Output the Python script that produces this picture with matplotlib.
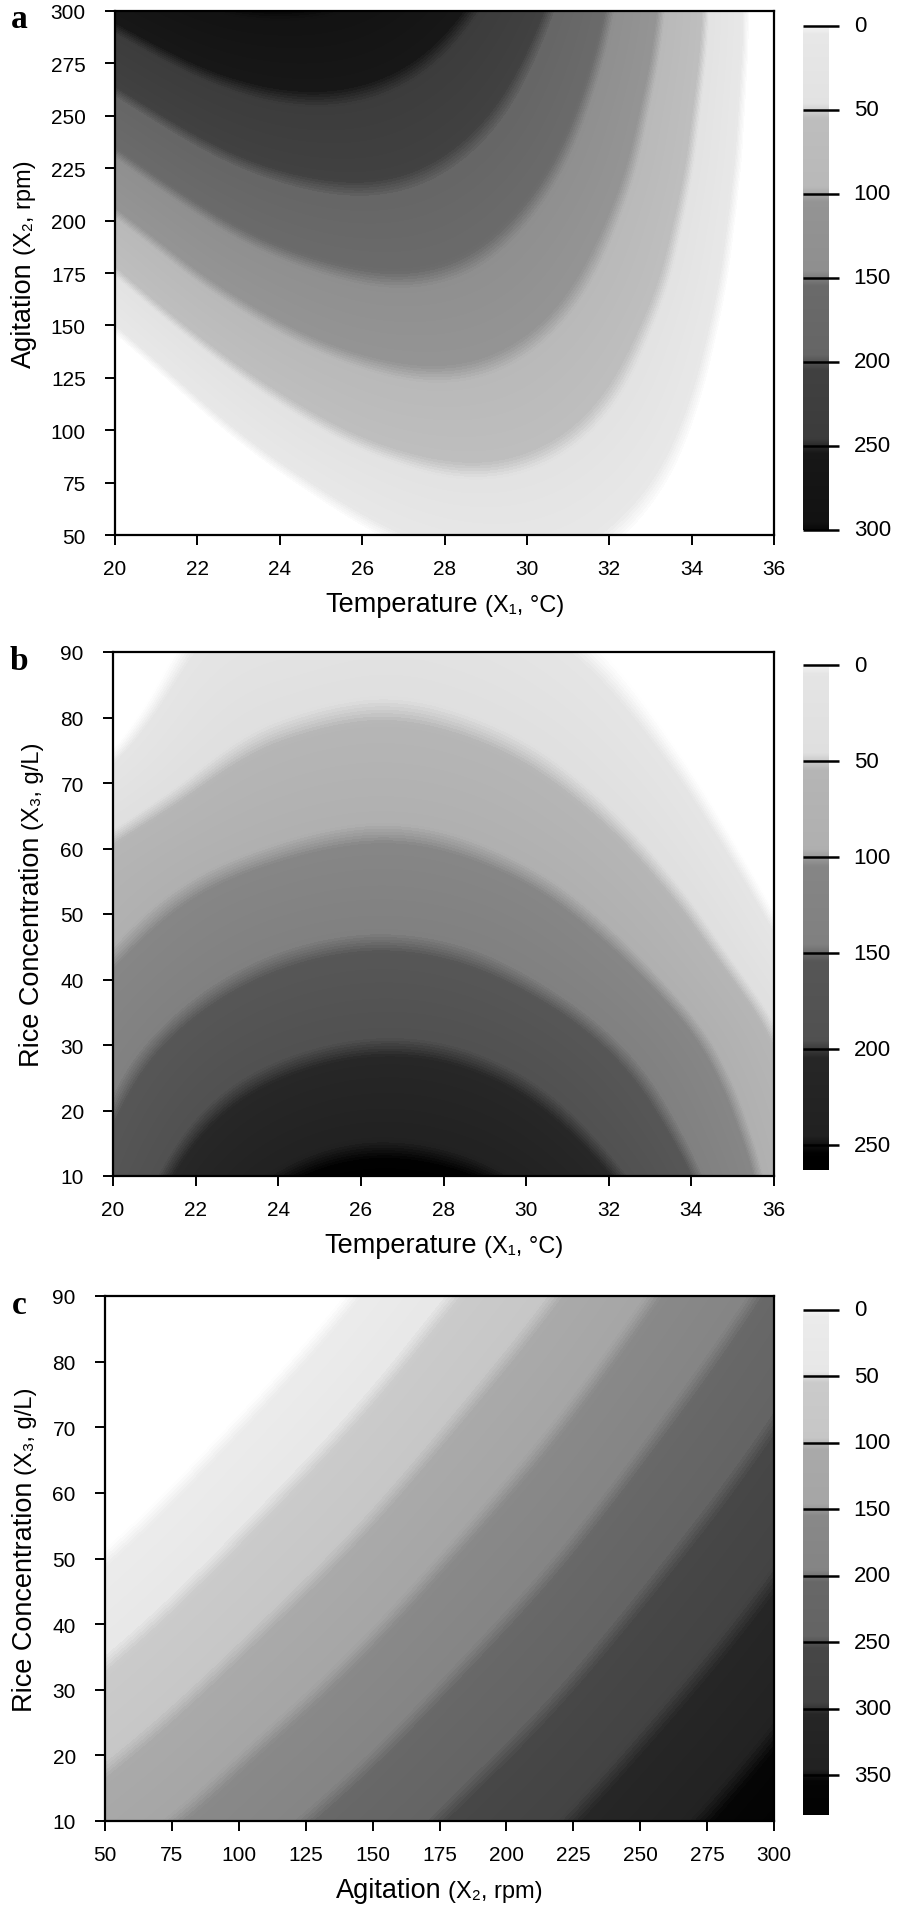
import numpy as np
import matplotlib
matplotlib.use('Agg')
import matplotlib.pyplot as plt
import matplotlib.tri as mtri
from matplotlib.colors import ListedColormap, Normalize
from matplotlib.transforms import IdentityTransform

# axis grids of the response surfaces
temperature = [20, 22, 24, 26, 28, 30, 32, 34, 36]
agitation = [50, 75, 100, 125, 150, 175, 200, 225, 250, 275, 300]
rice = [10, 20, 30, 40, 50, 60, 70, 80, 90]

# panel a: rows = agitation, cols = temperature
surface_a = [
    [-190, -111, -51, -10, 12, 16, 1, -33, -85],
    [-140, -67, -12, 24, 42, 40, 20, -18, -76],
    [-92, -23, 27, 58, 70, 64, 39, -5, -68],
    [-44, 19, 64, 90, 98, 86, 56, 7, -61],
    [3, 61, 101, 122, 124, 108, 72, 18, -54],
    [48, 102, 136, 152, 150, 128, 88, 29, -49],
    [93, 141, 171, 182, 174, 147, 102, 38, -45],
    [137, 180, 205, 211, 198, 166, 116, 47, -41],
    [180, 218, 238, 238, 220, 184, 128, 54, -39],
    [222, 255, 269, 265, 242, 200, 140, 61, -37],
    [263, 291, 300, 291, 263, 216, 150, 66, -37],
]

# panel b: rows = rice concentration, cols = temperature
surface_b = [
    [167, 216, 248, 262, 259, 240, 205, 154, 86],
    [150, 192, 218, 230, 227, 210, 178, 132, 72],
    [131, 166, 188, 198, 196, 180, 151, 109, 53],
    [108, 138, 158, 167, 164, 148, 120, 79, 26],
    [84, 111, 128, 136, 133, 118, 90, 50, -4],
    [56, 82, 98, 106, 103, 88, 62, 23, -28],
    [15, 50, 70, 78, 75, 61, 36, -1, -50],
    [-20, 24, 44, 52, 49, 36, 13, -22, -67],
    [-45, 4, 20, 28, 26, 14, -7, -38, -78],
]

# panel c: rows = rice concentration, cols = agitation
surface_c = [
    [124, 149, 174, 200, 225, 251, 276, 301, 327, 352, 377],
    [93, 119, 146, 172, 198, 225, 251, 277, 304, 330, 356],
    [62, 89, 117, 144, 171, 199, 226, 253, 281, 308, 335],
    [31, 59, 88, 116, 144, 173, 201, 229, 258, 286, 314],
    [0, 29, 59, 88, 117, 147, 176, 205, 235, 264, 293],
    [-31, -1, 30, 60, 90, 121, 151, 181, 212, 242, 272],
    [-62, -30, 1, 32, 63, 95, 126, 157, 189, 220, 251],
    [-93, -60, -28, 4, 36, 69, 101, 133, 166, 198, 230],
    [-124, -90, -57, -24, 10, 43, 76, 109, 143, 176, 209],
]

cbar_max = [300, 263, 380]
cbar_ticks = [list(range(0, 301, 50)), list(range(0, 251, 50)), list(range(0, 351, 50))]

W, H = 898, 1906
plt.rcParams['font.family'] = ['Liberation Sans', 'DejaVu Sans']
fig = plt.figure(figsize=(W / 100, H / 100), dpi=100)


def px_axes(left, top, right, bottom):
    return fig.add_axes([left / W, 1 - bottom / H, (right - left) / W, (bottom - top) / H])


def band_cmap(vmax, lo=-15):
    # stepped grey bands every 50 units, softened a little
    v = np.linspace(lo, vmax, 1500)
    mid = np.floor(v / 50) * 50 + 25
    g = np.clip(250 * (1 - mid / vmax), 0, 250)
    g = 0.85 * g + 0.15 * np.clip(250 * (1 - v / vmax), 0, 250)
    g = np.where(v < 0, 255, g)
    k = int(9 / (v[1] - v[0]))
    pad = np.concatenate([np.full(k, g[0]), g, np.full(k, g[-1])])
    g = np.convolve(pad, np.ones(k) / k, mode='same')[k:-k]
    g = np.clip(g / 255, 0, 1)
    cmap = ListedColormap(np.repeat(g[:, None], 3, axis=1))
    cmap.set_under('white')
    cmap.set_over('black')
    return cmap, Normalize(lo, vmax)


def draw_surface(ax, x, y, z, vmax):
    cmap, norm = band_cmap(vmax)
    nx, ny = len(x), len(y)
    gi, gj = np.meshgrid(np.arange(nx), np.arange(ny))
    tris = []
    for j in range(ny - 1):
        for i in range(nx - 1):
            k = j * nx + i
            tris.append([k, k + 1, k + nx + 1])
            tris.append([k, k + nx + 1, k + nx])
    zz = np.array(z, dtype=float).ravel()
    tri = mtri.Triangulation(gi.ravel().astype(float), gj.ravel().astype(float), tris)
    interp = mtri.CubicTriInterpolator(tri, zz, kind='min_E')
    fine, zf = mtri.UniformTriRefiner(tri).refine_field(zz, triinterpolator=interp, subdiv=4)
    fx = np.interp(fine.x, np.arange(nx), x)
    fy = np.interp(fine.y, np.arange(ny), y)
    tri_data = mtri.Triangulation(fx, fy, fine.triangles)
    ax.tricontourf(tri_data, zf, levels=np.linspace(-15, vmax, 220), cmap=cmap, norm=norm,
                   extend='both')
    ax.set_xlim(x[0], x[-1])
    ax.set_ylim(y[0], y[-1])
    ax.set_xticks(x)
    ax.set_yticks(y)
    for s in ax.spines.values():
        s.set_linewidth(1.6)
        s.set_zorder(5)
    ax.tick_params(axis='both', direction='out', length=7, width=1.4, labelsize=15)
    ax.tick_params(axis='x', pad=10)
    ax.tick_params(axis='y', pad=14)
    return cmap, norm


def draw_cbar(cax, vmax, ticks, cmap, norm):
    grad = np.linspace(0, vmax, 800).reshape(-1, 1)
    cax.imshow(grad, extent=[0, 1, vmax, 0], aspect='auto', cmap=cmap, norm=norm,
               interpolation='bilinear')
    cax.set_xlim(0, 1)
    cax.set_ylim(vmax, 0)
    cax.set_xticks([])
    cax.set_yticks([])
    for s in cax.spines.values():
        s.set_visible(False)
    tr = cax.get_yaxis_transform()
    cax.hlines(ticks, 0, 1.38, colors='black', lw=1.8, transform=tr, clip_on=False)
    for t in ticks:
        cax.text(1.95, t, str(t), transform=tr, va='center', ha='left', fontsize=16)


def split_label(big, small, x, y, rotation=0, big_size=19.5, small_size=17, gap=7):
    kw = dict(transform=IdentityTransform(), rotation=rotation, rotation_mode='anchor',
              ha='left', va='baseline')
    t1 = fig.text(0, 0, big, fontsize=big_size, **kw)
    t2 = fig.text(0, 0, small, fontsize=small_size, **kw)
    r = fig.canvas.get_renderer()
    e1 = t1.get_window_extent(r)
    e2 = t2.get_window_extent(r)
    if rotation == 0:
        start = x - (e1.width + gap + e2.width) / 2
        t1.set_position((start, y))
        t2.set_position((start + e1.width + gap, y))
    else:
        start = y - (e1.height + gap + e2.height) / 2
        t1.set_position((x, start))
        t2.set_position((x, start + e1.height + gap))


panels = [
    dict(box=(115, 12, 774, 536), cbar=(803, 27, 829, 531), x=temperature, y=agitation, z=surface_a,
         xl=('Temperature', '(X\u2081, \u00b0C)'), yl=('Agitation', '(X\u2082, rpm)'), ylx=31,
         letter='a'),
    dict(box=(113, 653, 774, 1177), cbar=(803, 666, 829, 1171), x=temperature, y=rice, z=surface_b,
         xl=('Temperature', '(X\u2081, \u00b0C)'), yl=('Rice Concentration', '(X\u2083, g/L)'), ylx=39,
         letter='b'),
    dict(box=(105, 1297, 774, 1822), cbar=(803, 1311, 829, 1816), x=agitation, y=rice, z=surface_c,
         xl=('Agitation', '(X\u2082, rpm)'), yl=('Rice Concentration', '(X\u2083, g/L)'), ylx=32,
         letter='c'),
]

for i, p in enumerate(panels):
    l, t, r_, b = p['box']
    ax = px_axes(l, t, r_, b)
    cmap, norm = draw_surface(ax, p['x'], p['y'], p['z'], cbar_max[i])
    cax = px_axes(*p['cbar'])
    draw_cbar(cax, cbar_max[i], cbar_ticks[i], cmap, norm)
    split_label(p['xl'][0], p['xl'][1], (l + r_) / 2, H - (b + 76))
    split_label(p['yl'][0], p['yl'][1], p['ylx'], H - (t + b) / 2 + 10, rotation=90)
    fig.text(19 / W, 1 - (t + 8) / H, p['letter'], fontsize=24, fontweight='bold',
             family='Liberation Serif', ha='center', va='center')

fig.savefig('out.png', dpi=100)
